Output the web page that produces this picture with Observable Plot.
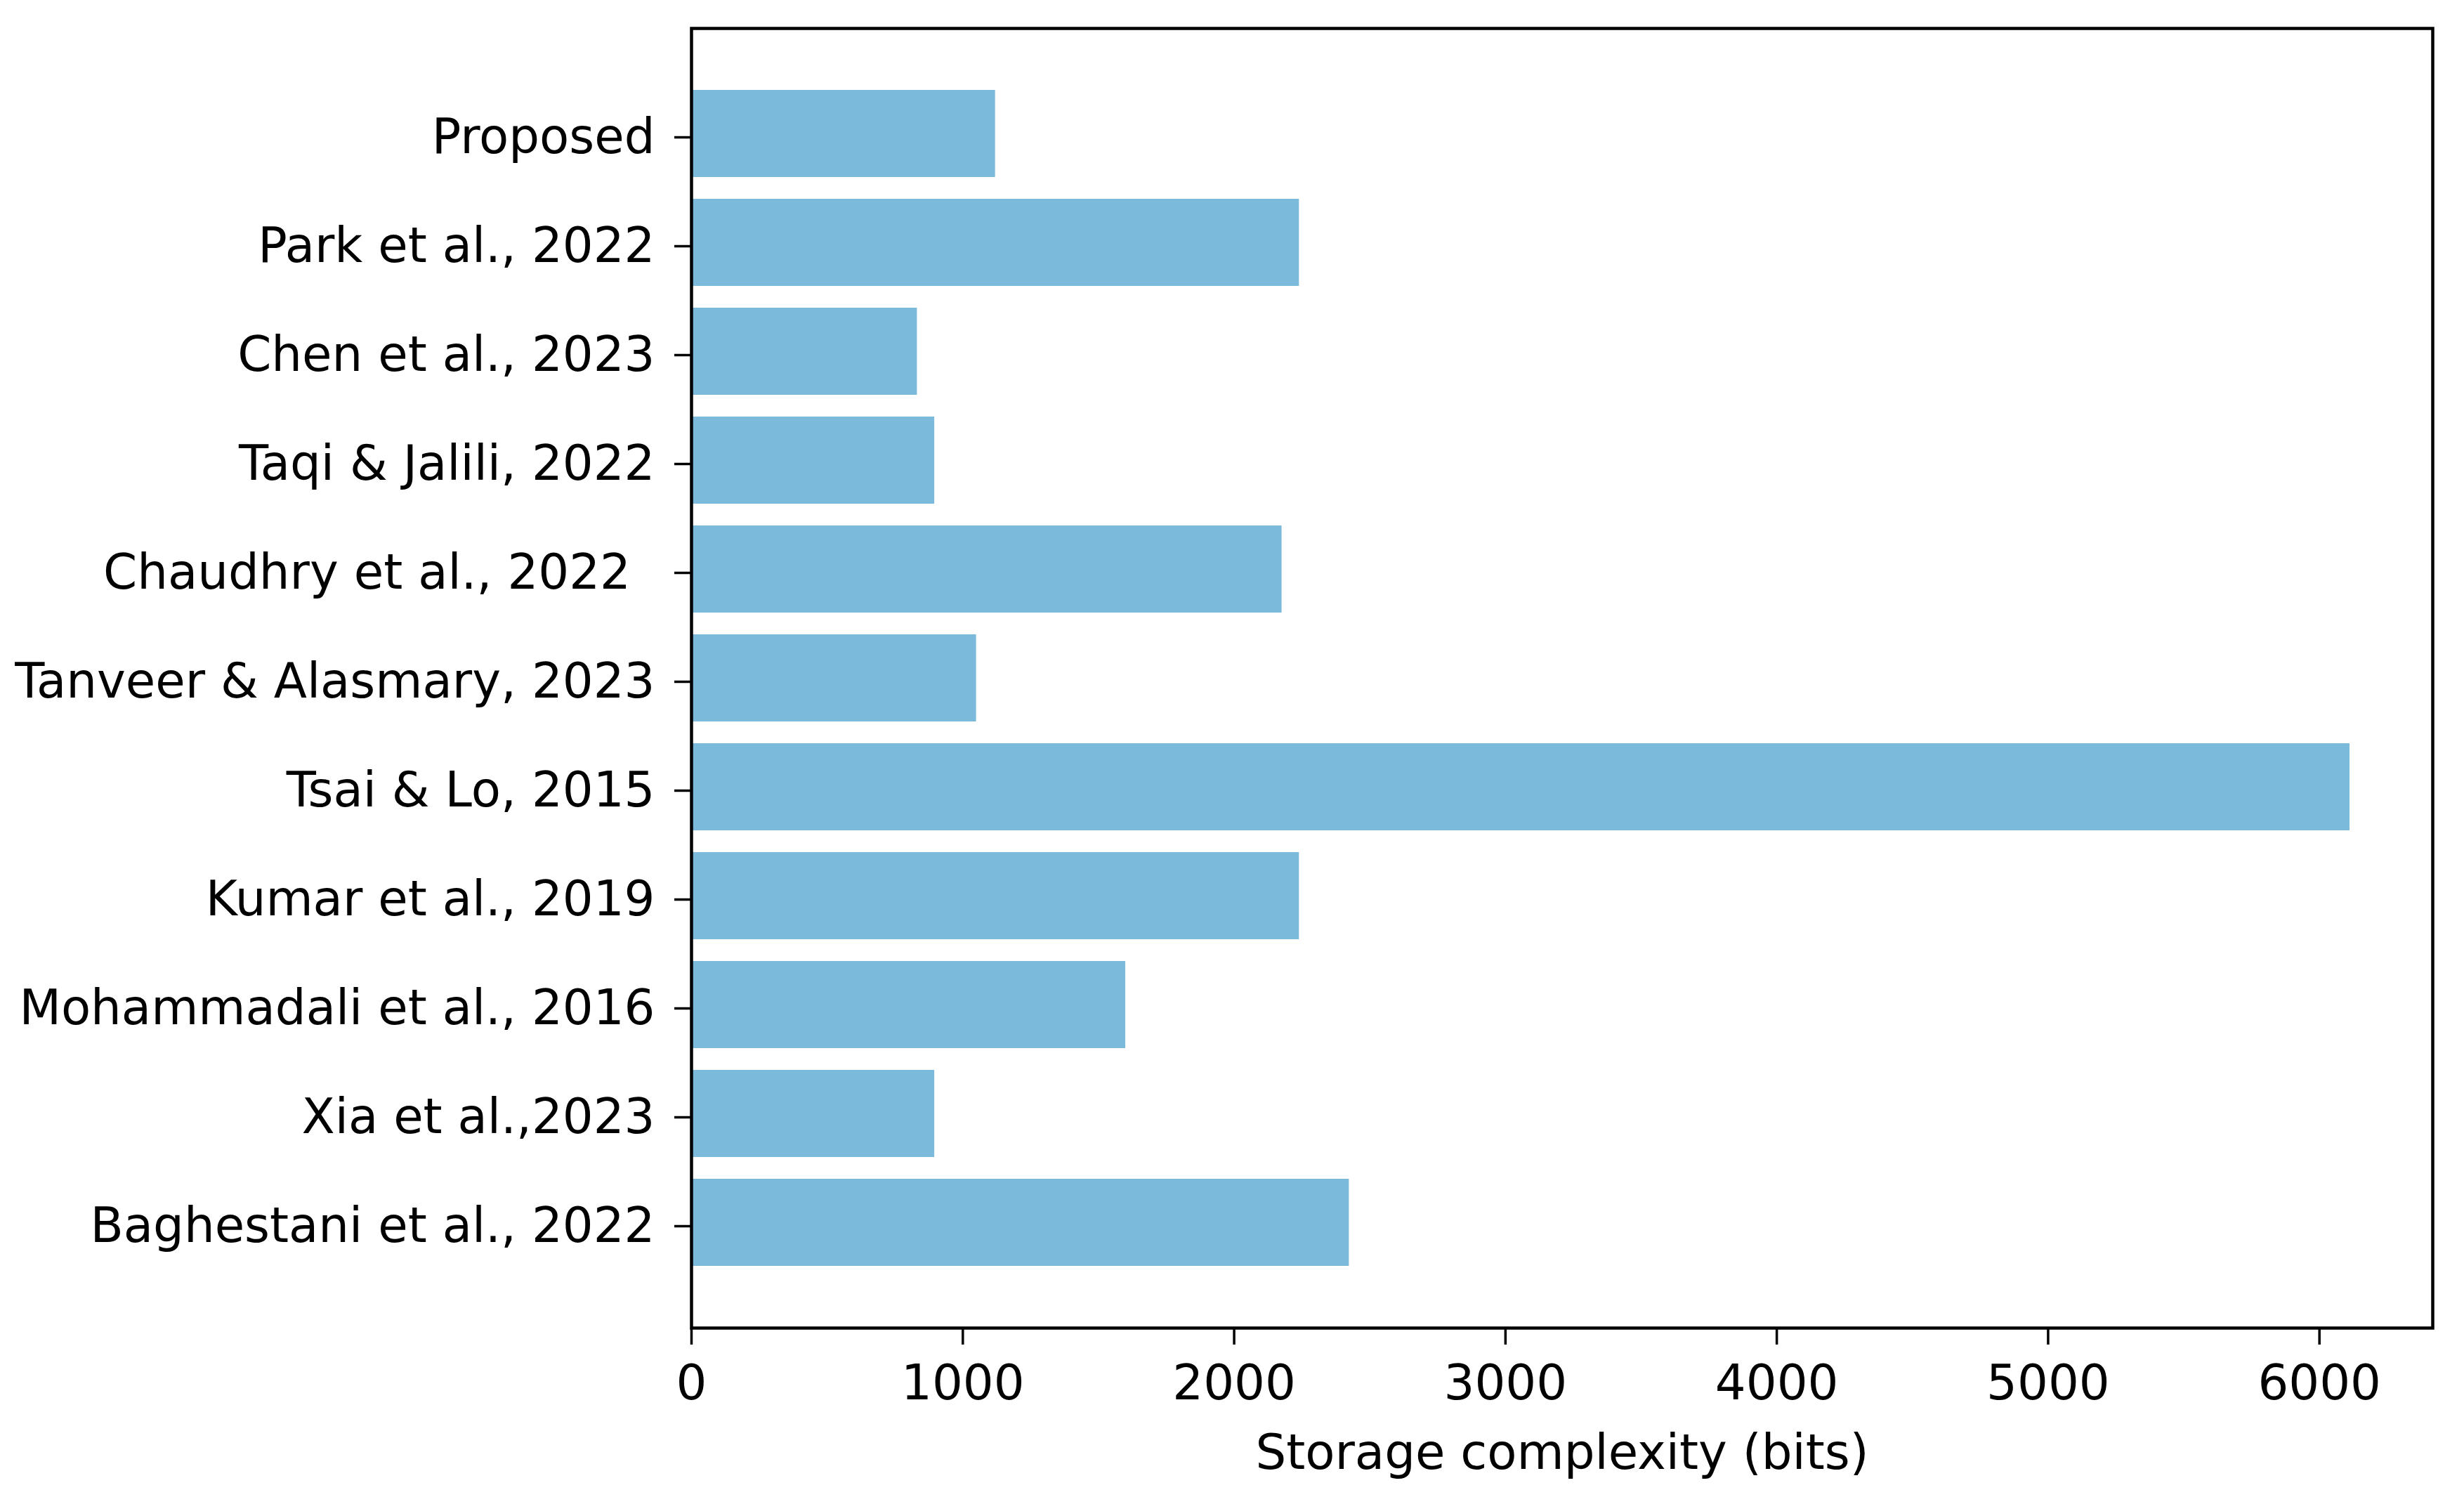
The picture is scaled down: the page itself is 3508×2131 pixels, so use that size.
<!DOCTYPE html>
<html>
<head>
<meta charset="utf-8">
<script src="https://cdn.jsdelivr.net/npm/d3@7"></script>
<script src="https://cdn.jsdelivr.net/npm/@observablehq/plot@0.6"></script>
<style>
  html, body { margin: 0; padding: 0; background: white; }
</style>
</head>
<body>
<div id="chart"></div>
<script>
const categories = [
  "Proposed",
  "Park et al., 2022",
  "Chen et al., 2023",
  "Taqi & Jalili, 2022",
  "Chaudhry et al., 2022\u2002",
  "Tanveer & Alasmary, 2023",
  "Tsai & Lo, 2015",
  "Kumar et al., 2019",
  "Mohammadali et al., 2016",
  "Xia et al.,2023",
  "Baghestani et al., 2022"
];
const values = [1120, 2240, 832, 896, 2176, 1050, 6112, 2240, 1600, 896, 2424];
const xTicks = [0, 1000, 2000, 3000, 4000, 5000, 6000];
const xLabel = "Storage complexity (bits)";

const data = categories.map((c, i) => ({method: c, bits: values[i]}));

const chart = Plot.plot({
  width: 3508,
  height: 2131,
  marginLeft: 984,
  marginRight: 45,
  marginTop: 40,
  marginBottom: 241,
  style: {fontFamily: "DejaVu Sans", fontSize: "69px", color: "black", background: "white"},
  x: {domain: [0, d3.max(values) * 1.05]},
  y: {type: "band", domain: categories, paddingInner: 0.2, paddingOuter: 0.54},
  marks: [
    Plot.barX(data, {x: "bits", y: "method", fill: "#7bbadb"}),
    Plot.axisX({
      ticks: xTicks, tickFormat: d3.format("d"), tickSize: 24, tickPadding: 28,
      strokeWidth: 3.5, fontSize: 69, label: xLabel, labelAnchor: "center",
      labelArrow: "none", labelOffset: 200
    }),
    Plot.axisY({tickSize: 24, tickPadding: 28, strokeWidth: 3.5, fontSize: 69, label: null, dy: 5}),
    Plot.frame({stroke: "black", strokeWidth: 4.5})
  ]
});
document.getElementById("chart").appendChild(chart);
</script>
</body>
</html>
